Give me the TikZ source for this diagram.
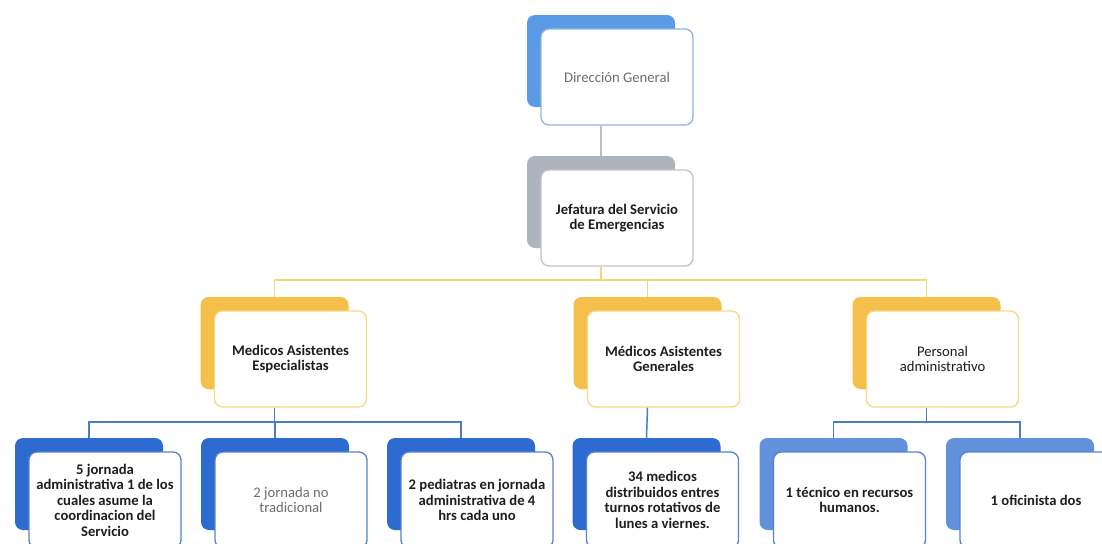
\documentclass[tikz,border=0pt]{standalone}
\usepackage{fontspec}
\setmainfont{Carlito}
\usetikzlibrary{calc}
\definecolor{bgblue}{HTML}{5B9BE6}
\definecolor{bggray}{HTML}{AEB4BE}
\definecolor{bggold}{HTML}{F6BE4A}
\definecolor{bgdark}{HTML}{2E6BD1}
\definecolor{bglight}{HTML}{6292DB}
\definecolor{brblue}{HTML}{8DB6E6}
\definecolor{brgray}{HTML}{C4C4C4}
\definecolor{brgold}{HTML}{F5DA80}
\definecolor{brdark}{HTML}{5583CC}
\definecolor{lngray}{HTML}{BDBDBD}
\definecolor{lnyellow}{HTML}{F2D870}
\definecolor{lnblue}{HTML}{4A7CC7}
\definecolor{txdark}{HTML}{1E1E1E}
\definecolor{txgray}{HTML}{6E6E6E}
\tikzset{
  backbox/.style={rounded corners=6pt, minimum width=111pt, minimum height=69pt, inner sep=0pt},
  frontbox/.style={rounded corners=6pt, minimum width=114pt, minimum height=72pt, fill=white, line width=1pt,
    align=center, font=\fontsize{11}{11.6}\selectfont\bfseries, text=txdark, inner sep=0pt},
  lighttext/.style={font=\fontsize{11}{11.6}\selectfont, text=txgray},
  conn/.style={line width=1.1pt},
}
\newcommand\orgpair[7]{%
  \node[backbox, fill=#4] (#1-b) at (#2,#3) {};
  \node[frontbox, draw=#5, #7] (#1) at ($(#1-b)+(16,16)$) {#6};
}
\begin{document}
\begin{tikzpicture}[x=0.75pt, y=-0.75pt]
\useasboundingbox (0,0) rectangle (1102,543);
\clip (0,0) rectangle (1102,543);
\fill[white] (0,0) rectangle (1102,543);
\orgpair{dg}{601}{61}{bgblue}{brblue}{Dirección General}{lighttext}
\orgpair{je}{601}{202}{bggray}{brgray}{Jefatura del Servicio\\de Emergencias}{}
\coordinate (ybus) at (0,280);
\coordinate (bbus) at (0,422);
\orgpair{me}{274.5}{343}{bggold}{brgold}{Medicos Asistentes\\Especialistas}{}
\orgpair{mg}{647.5}{343}{bggold}{brgold}{Médicos Asistentes\\Generales}{}
\orgpair{pa}{926.5}{343}{bggold}{brgold}{Personal\\administrativo}{font=\fontsize{11}{11.6}\selectfont}
\orgpair{b1}{89}{484}{bgdark}{brdark}{5 jornada\\administrativa 1 de los\\cuales asume la\\coordinacion del\\Servicio}{}
\orgpair{b2}{275}{484}{bgdark}{brdark}{2 jornada no\\tradicional}{lighttext}
\orgpair{b3}{461}{484}{bgdark}{brdark}{2 pediatras en jornada\\administrativa de 4\\hrs cada uno}{}
\orgpair{b4}{646.5}{484}{bgdark}{brdark}{34 medicos\\distribuidos entres\\turnos rotativos de\\lunes a viernes.}{}
\orgpair{b5}{833.5}{484}{bglight}{brdark}{1 técnico en recursos\\humanos.}{}
\orgpair{b6}{1020}{484}{bglight}{brdark}{1 oficinista dos}{}
% connectors
\draw[conn, lngray] (dg-b.north |- dg.south) -- (je-b.north);
\draw[conn, lnyellow] (je-b.north |- je.south) -- (je-b.north |- ybus);
\draw[conn, lnyellow] (me-b.north) -- (me-b.north |- ybus) -| (pa-b.north);
\draw[conn, lnyellow] (mg-b.north) -- (mg-b.north |- ybus);
\draw[conn, lnblue] (me-b.north |- me.south) -- (me-b.north |- bbus);
\draw[conn, lnblue] (b1-b.north) -- (b1-b.north |- bbus) -| (b3-b.north);
\draw[conn, lnblue] (b2-b.north) -- (b2-b.north |- bbus);
\draw[conn, lnblue] (mg-b.north |- mg.south) -- (b4-b.north);
\draw[conn, lnblue] (pa-b.north |- pa.south) -- (pa-b.north |- bbus);
\draw[conn, lnblue] (b5-b.north) -- (b5-b.north |- bbus) -| (b6-b.north);
\end{tikzpicture}
\end{document}
